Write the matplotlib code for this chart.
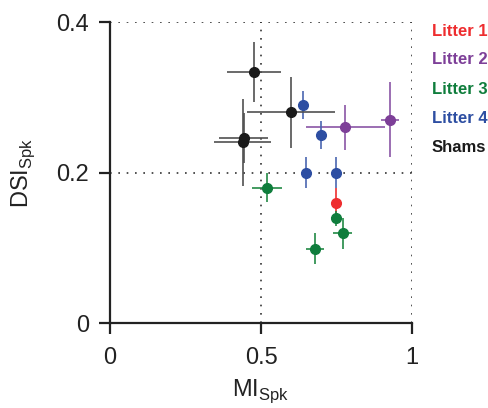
from matplotlib import pyplot as plt

FONT = "Liberation Sans"

GROUPS = ["Litter 1", "Litter 2", "Litter 3", "Litter 4", "Shams"]
COLOR = {
    "Litter 1": "#ee2d2f",
    "Litter 2": "#7d3f98",
    "Litter 3": "#0f7d3c",
    "Litter 4": "#2d4ea2",
    "Shams": "#1a1a1a",
}
ECOLOR = {
    "Litter 1": "#ee2d2f",
    "Litter 2": "#8a55a6",
    "Litter 3": "#238a45",
    "Litter 4": "#4a66b0",
    "Shams": "#505050",
}

# MI_Spk, DSI_Spk and their error bars per group
MI = {
    "Litter 1": [0.749],
    "Litter 2": [0.779, 0.928],
    "Litter 3": [0.519, 0.749, 0.770, 0.680],
    "Litter 4": [0.639, 0.698, 0.650, 0.749],
    "Shams": [0.477, 0.599, 0.443, 0.439],
}
DSI = {
    "Litter 1": [0.160],
    "Litter 2": [0.260, 0.270],
    "Litter 3": [0.180, 0.139, 0.119, 0.099],
    "Litter 4": [0.290, 0.250, 0.200, 0.200],
    "Shams": [0.334, 0.280, 0.246, 0.240],
}
MI_ERR = {
    "Litter 1": [0.008],
    "Litter 2": [0.130, 0.030],
    "Litter 3": [0.050, 0.017, 0.030, 0.030],
    "Litter 4": [0.018, 0.012, 0.015, 0.015],
    "Shams": [0.089, 0.146, 0.081, 0.093],
}
DSI_ERR = {
    "Litter 1": [0.019],
    "Litter 2": [0.030, 0.050],
    "Litter 3": [0.019, 0.010, 0.020, 0.020],
    "Litter 4": [0.019, 0.019, 0.021, 0.021],
    "Shams": [0.040, 0.047, 0.033, 0.058],
}

plt.rcParams["font.family"] = [FONT, "DejaVu Sans"]

fig = plt.figure(figsize=(4.88, 4.08), dpi=100)
ax = fig.add_axes([0.2254, 0.2083, 0.6189, 0.7377])

for v in [0.5, 1.0]:
    ax.axvline(v, color="#333333", linestyle=(0, (1, 4)), linewidth=1.2, zorder=0)
for v in [0.2, 0.4]:
    ax.axhline(v, color="#333333", linestyle=(0, (1, 4)), linewidth=1.2, zorder=0)

for g in GROUPS:
    ax.errorbar(
        MI[g],
        DSI[g],
        xerr=MI_ERR[g],
        yerr=DSI_ERR[g],
        fmt="o",
        color=COLOR[g],
        ecolor=ECOLOR[g],
        elinewidth=1.2,
        capsize=0,
        markersize=7,
        zorder=3,
    )

ax.set_xlim(0, 1)
ax.set_ylim(0, 0.4)
ax.set_xticks([0, 0.5, 1])
ax.set_xticklabels(["0", "0.5", "1"])
ax.set_yticks([0, 0.2, 0.4])
ax.set_yticklabels(["0", "0.2", "0.4"])
for s in ["top", "right"]:
    ax.spines[s].set_visible(False)
for s in ["left", "bottom"]:
    ax.spines[s].set_linewidth(1.6)
    ax.spines[s].set_color("#222222")
ax.tick_params(direction="out", length=8, width=1.6, color="#222222",
               labelsize=17, pad=7, labelcolor="#222222")
ax.tick_params(axis="x", pad=9)

ax.set_xlabel("MI$_{\\mathregular{Spk}}$", fontsize=17, color="#222222", labelpad=6)
ax.set_ylabel("DSI$_{\\mathregular{Spk}}$", fontsize=17, color="#222222", labelpad=14)

for i, g in enumerate(GROUPS):
    fig.text(432 / 488, 1 - (31 + 29 * i) / 408, g, color=COLOR[g],
             fontsize=12, fontweight="bold", va="center", ha="left")

plt.savefig("out.png", dpi=100)
plt.close()
